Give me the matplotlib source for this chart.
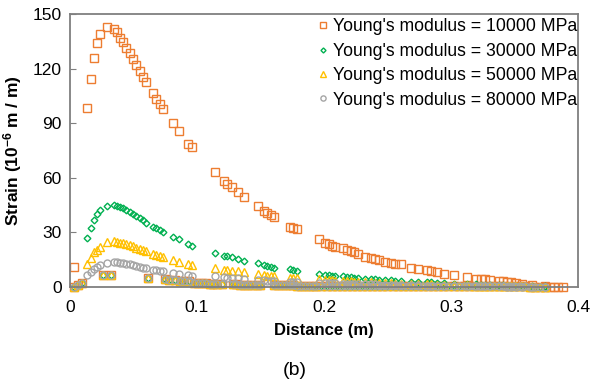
"""
Strain along distance for four Young's modulus values, panel (b).
"""
import matplotlib
matplotlib.use("Agg")
import matplotlib.pyplot as plt

plt.rcParams["font.family"] = ["Liberation Sans", "DejaVu Sans"]
plt.rcParams["mathtext.default"] = "regular"

# -----------------------------------------------------------------------------
# Data
# -----------------------------------------------------------------------------
# nodes where the four curves separate
x_curve = [0.0132, 0.0162, 0.019, 0.0214, 0.0238, 0.0288, 0.0343, 0.0367, 0.039, 0.0417,
           0.0444, 0.047, 0.0499, 0.0523, 0.0549, 0.0573, 0.060, 0.0655, 0.0679, 0.0705,
           0.0729, 0.0808, 0.0858, 0.0932, 0.0961, 0.114, 0.1215, 0.124, 0.1273, 0.132,
           0.137, 0.148, 0.1526, 0.155, 0.158, 0.161, 0.173, 0.176, 0.179, 0.196,
           0.201, 0.204, 0.2067, 0.209, 0.2147, 0.218, 0.221, 0.224, 0.227, 0.232,
           0.237, 0.240, 0.243, 0.248, 0.253, 0.256, 0.261, 0.2685, 0.274, 0.281,
           0.284, 0.289, 0.2947, 0.3026, 0.3126, 0.320, 0.3237, 0.327, 0.3305, 0.338,
           0.341, 0.344, 0.347, 0.351, 0.356, 0.364, 0.3744]

e10000 = [98.2, 114.1, 125.8, 133.9, 138.9, 142.9, 141.6, 139.9, 137.0, 134.4,
          131.5, 128.4, 125.1, 121.8, 118.5, 115.5, 112.5, 106.4, 103.3, 100.5,
          97.8, 90.1, 85.7, 78.7, 77.1, 63.4, 58.2, 56.8, 54.9, 52.4,
          49.5, 44.3, 41.9, 40.5, 39.4, 38.3, 33.1, 32.6, 31.7, 26.2,
          24.3, 23.5, 22.7, 22.1, 21.3, 20.3, 19.8, 19.1, 18.1, 16.6,
          15.9, 15.4, 14.8, 13.9, 13.2, 12.8, 12.4, 10.6, 10.1, 9.2,
          8.8, 8.1, 7.3, 6.8, 5.5, 4.6, 4.4, 4.2, 3.8, 3.3,
          3.1, 2.9, 2.6, 2.2, 1.6, 1.3, 0.5]

e30000 = [26.8, 32.2, 36.6, 39.9, 42.1, 44.5, 45.0, 44.6, 44.0, 43.2,
          42.2, 41.2, 40.0, 38.9, 37.8, 36.6, 35.3, 33.1, 32.3, 31.3,
          30.4, 27.3, 26.2, 23.6, 22.7, 18.8, 17.3, 16.9, 16.4, 15.6,
          14.3, 13.0, 11.9, 11.6, 11.2, 10.7, 9.7, 9.3, 9.0, 7.3,
          6.7, 6.5, 6.3, 6.1, 5.8, 5.6, 5.4, 5.2, 5.0, 4.6,
          4.4, 4.2, 4.0, 3.8, 3.6, 3.5, 3.3, 3.0, 2.8, 2.6,
          2.5, 2.3, 2.1, 1.9, 1.6, 1.4, 1.3, 1.2, 1.1, 0.9,
          0.9, 0.8, 0.7, 0.6, 0.5, 0.4, 0.3]

e50000 = [12.8, 15.8, 19.0, 20.5, 22.1, 24.6, 25.0, 24.8, 24.4, 24.0,
          23.5, 23.0, 22.3, 21.7, 21.0, 20.4, 19.8, 18.2, 17.6, 17.0,
          16.4, 14.8, 14.0, 12.6, 12.1, 10.4, 9.5, 9.3, 9.0, 8.6,
          8.0, 7.0, 6.5, 6.3, 6.1, 5.9, 5.2, 5.0, 4.8, 4.2,
          3.9, 3.7, 3.6, 3.5, 3.3, 3.2, 3.1, 3.0, 2.9, 2.7,
          2.5, 2.4, 2.3, 2.2, 2.0, 1.9, 1.8, 1.7, 1.6, 1.4,
          1.4, 1.3, 1.2, 1.0, 0.9, 0.8, 0.7, 0.7, 0.6, 0.5,
          0.5, 0.4, 0.4, 0.3, 0.3, 0.2, 0.1]

e80000 = [6.4, 8.2, 9.9, 11.2, 12.3, 13.4, 13.6, 13.5, 13.3, 13.0,
          12.7, 12.4, 12.0, 11.6, 11.2, 10.7, 10.3, 9.6, 9.3, 9.0,
          8.7, 7.6, 7.1, 6.6, 6.3, 5.8, 5.3, 5.1, 4.9, 4.7,
          4.4, 3.9, 3.6, 3.5, 3.4, 3.3, 2.9, 2.8, 2.7, 2.4,
          2.2, 2.1, 2.0, 2.0, 1.9, 1.8, 1.8, 1.7, 1.6, 1.5,
          1.4, 1.4, 1.3, 1.2, 1.2, 1.1, 1.0, 1.0, 0.9, 0.8,
          0.8, 0.7, 0.7, 0.6, 0.5, 0.5, 0.4, 0.4, 0.4, 0.3,
          0.3, 0.2, 0.2, 0.2, 0.1, 0.1, 0.1]

# nodes where all four curves drop to (nearly) the same low value
x_low = [0.003, 0.0066, 0.0092, 0.026, 0.032, 0.0617, 0.0748, 0.0782, 0.0827, 0.0866,
         0.090, 0.0937, 0.0976, 0.1008, 0.104, 0.107, 0.110, 0.113, 0.116, 0.1197,
         0.128, 0.131, 0.134, 0.137, 0.140, 0.143, 0.147, 0.150, 0.161, 0.164,
         0.167, 0.170, 0.173, 0.176, 0.179, 0.182, 0.185, 0.188, 0.191, 0.194,
         0.198, 0.202, 0.206, 0.210, 0.214, 0.218, 0.222, 0.226, 0.230, 0.234,
         0.238, 0.242, 0.246, 0.250, 0.254, 0.258, 0.262, 0.266, 0.270, 0.274,
         0.278, 0.282, 0.286, 0.290, 0.294, 0.298, 0.302, 0.306, 0.310, 0.314,
         0.318, 0.322, 0.326, 0.330, 0.334, 0.338, 0.342, 0.346, 0.350, 0.354,
         0.358, 0.362, 0.366, 0.370, 0.374]
y_low = [0.0, 1.3, 2.4, 6.4, 6.4, 5.0, 4.2, 4.0, 3.8, 3.5,
         3.3, 3.1, 2.3, 2.2, 2.1, 2.0, 1.9, 1.9, 1.8, 1.8,
         1.5, 1.4, 1.3, 1.3, 1.2, 1.2, 1.1, 1.1, 1.0, 1.0,
         0.9, 0.9, 0.9, 0.9, 0.8, 0.8, 0.8, 0.8, 0.8, 0.7,
         0.7, 0.7, 0.7, 0.7, 0.7, 0.7, 0.6, 0.6, 0.6, 0.6,
         0.6, 0.6, 0.6, 0.6, 0.5, 0.5, 0.5, 0.5, 0.5, 0.5,
         0.5, 0.5, 0.5, 0.5, 0.4, 0.4, 0.4, 0.4, 0.4, 0.4,
         0.4, 0.4, 0.4, 0.3, 0.3, 0.3, 0.3, 0.3, 0.3, 0.3,
         0.3, 0.2, 0.2, 0.2, 0.2]

# extra points only present for the 10000 MPa series
x_extra_10000 = [0.003, 0.378, 0.381, 0.384, 0.388]
y_extra_10000 = [10.8, 0.2, 0.1, 0.0, 0.0]

labels = ["Young's modulus = 10000 MPa", "Young's modulus = 30000 MPa",
          "Young's modulus = 50000 MPa", "Young's modulus = 80000 MPa"]

# -----------------------------------------------------------------------------
# Plot
# -----------------------------------------------------------------------------
series = [
    (x_curve + x_low + x_extra_10000, e10000 + y_low + y_extra_10000, "s", 5.2, "#ED7D31"),
    (x_curve + x_low, e30000 + y_low, "D", 3.4, "#00B050"),
    (x_curve + x_low, e50000 + y_low, "^", 5.6, "#FFC000"),
    (x_curve + x_low, e80000 + y_low, "o", 5.0, "#A5A5A5"),
]

fig = plt.figure(figsize=(5.9, 3.88), dpi=100)
ax = fig.add_axes([0.1186, 0.2603, 0.861, 0.7037])

for (xs, ys, mk, ms, col), lab in zip(series, labels):
    ax.plot(xs, ys, linestyle="none", marker=mk, markersize=ms, markerfacecolor="none",
            markeredgecolor=col, markeredgewidth=1.0, label=lab, clip_on=False)

ax.set_xlim(0, 0.4)
ax.set_ylim(0, 150)
ax.set_xticks([0, 0.1, 0.2, 0.3, 0.4])
ax.set_xticklabels(["0", "0.1", "0.2", "0.3", "0.4"])
ax.set_yticks([0, 30, 60, 90, 120, 150])

for sp in ax.spines.values():
    sp.set_color("#7F7F7F")
    sp.set_linewidth(1.3)
ax.tick_params(axis="y", direction="in", length=4, color="#7F7F7F", labelsize=12.5, pad=6)
ax.tick_params(axis="x", length=0, labelsize=12.5, pad=9)

ax.set_xlabel("Distance (m)", fontsize=12, fontweight="bold", labelpad=6)
ax.set_ylabel("Strain (10$^{-6}$ m / m)", fontsize=12.5, fontweight="bold", labelpad=6)

leg = ax.legend(loc="upper right", bbox_to_anchor=(1.012, 1.01), frameon=False, fontsize=12.7,
                handletextpad=0.05, handlelength=1.0, labelspacing=0.42, borderaxespad=0.0,
                markerscale=0.75)

fig.text(0.5, 0.045, "(b)", ha="center", va="center", fontsize=14)

plt.savefig("out.png", dpi=100)
plt.close()
